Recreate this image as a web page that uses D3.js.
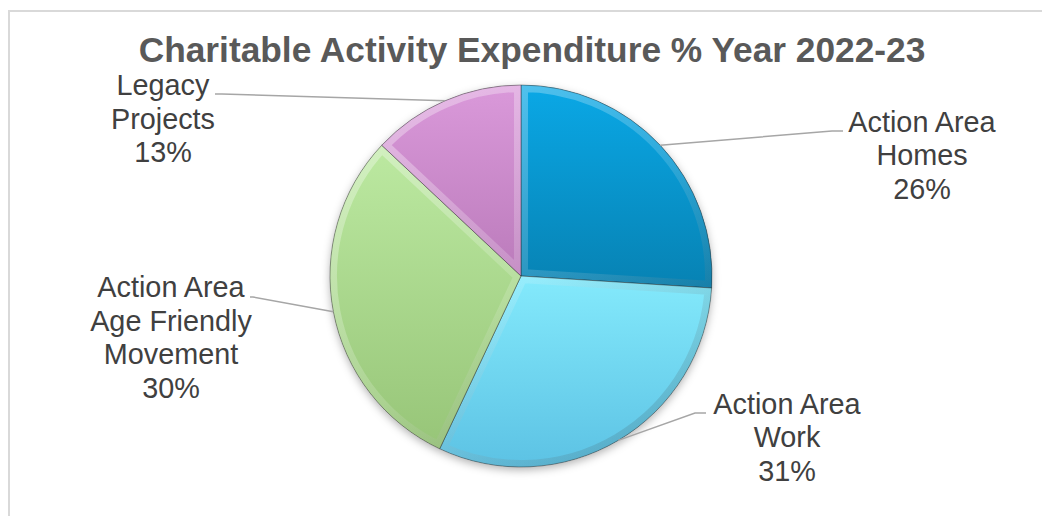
<!DOCTYPE html>
<html>
<head>
<meta charset="utf-8">
<script src="https://cdn.jsdelivr.net/npm/d3@7"></script>
<style>
  html, body { margin: 0; padding: 0; background: #ffffff; }
  svg { display: block; }
</style>
</head>
<body>
<svg id="chart" width="1042" height="516"></svg>
<script>
// ---- Data ----
const title = "Charitable Activity Expenditure % Year 2022-23";
const categories = ["Action Area Homes", "Action Area Work", "Action Area Age Friendly Movement", "Legacy Projects"];
const labelLines = [["Action Area", "Homes"], ["Action Area", "Work"], ["Action Area", "Age Friendly", "Movement"], ["Legacy", "Projects"]];
const values = [26, 31, 30, 13];
const percentLabels = ["26%", "31%", "30%", "13%"];

// ---- Styles / layout (separate from data) ----
const colorsTop = ["#0aa8e6", "#84eafc", "#bce9a1", "#da99da"];
const colorsBottom = ["#0782b3", "#5cc2e4", "#97c578", "#bb7bbb"];
const cx = 521, cy = 276, radius = 191;
// label layout: text centre x, first baseline y, elbow point, end point of leader
const labelLayout = [
  { x: 922, y: 131.5, elbow: [832, 131], end: [843, 131] },
  { x: 787, y: 413.5, elbow: [695, 413], end: [706, 413] },
  { x: 171, y: 297, elbow: [253, 297], end: [250, 297] },
  { x: 163, y: 95, elbow: [222, 94], end: [215, 94] }
];
const lineHeight = 33.5;

const svg = d3.select("#chart");
const defs = svg.append("defs");

// chart frame
svg.append("rect")
  .attr("x", 9).attr("y", 11)
  .attr("width", 1060).attr("height", 520)
  .attr("fill", "#ffffff")
  .attr("stroke", "#d9d9d9").attr("stroke-width", 2);

// title
svg.append("text")
  .attr("x", 532).attr("y", 62)
  .attr("text-anchor", "middle")
  .attr("font-family", "'Liberation Sans', Arial, sans-serif")
  .attr("font-weight", "bold")
  .attr("font-size", 35.3)
  .attr("fill", "#595959")
  .text(title);

// gradients
values.forEach((v, i) => {
  const g = defs.append("linearGradient")
    .attr("id", "grad" + i)
    .attr("x1", 0).attr("y1", 0).attr("x2", 0).attr("y2", 1);
  g.append("stop").attr("offset", "0%").attr("stop-color", colorsTop[i]);
  g.append("stop").attr("offset", "100%").attr("stop-color", colorsBottom[i]);
});

// bevel band gradient (light top-left, dark bottom-right)
const bevelGrad = defs.append("linearGradient")
  .attr("id", "bevelGrad")
  .attr("gradientUnits", "userSpaceOnUse")
  .attr("x1", -radius).attr("y1", -radius).attr("x2", radius * 0.7).attr("y2", radius);
bevelGrad.append("stop").attr("offset", "0%").attr("stop-color", "#ffffff").attr("stop-opacity", 0.4);
bevelGrad.append("stop").attr("offset", "55%").attr("stop-color", "#ffffff").attr("stop-opacity", 0.15);
bevelGrad.append("stop").attr("offset", "100%").attr("stop-color", "#000000").attr("stop-opacity", 0.15);

// drop shadow
const shadow = defs.append("filter").attr("id", "shadow")
  .attr("x", "-20%").attr("y", "-20%").attr("width", "140%").attr("height", "140%");
shadow.append("feDropShadow").attr("dx", 0).attr("dy", 3).attr("stdDeviation", 4)
  .attr("flood-color", "#000").attr("flood-opacity", 0.3);

const pie = d3.pie().sort(null).value(d => d);
const arcs = pie(values);
const arc = d3.arc().innerRadius(0).outerRadius(radius);

const pieG = svg.append("g")
  .attr("transform", `translate(${cx},${cy})`);

// shadow base
pieG.append("g").attr("filter", "url(#shadow)")
  .selectAll("path").data(arcs).join("path")
  .attr("d", arc).attr("fill", "#888");

// clip paths for bevel bands (in the pie group's user space)
arcs.forEach((d, i) => {
  defs.append("clipPath").attr("id", "clip" + i)
    .append("path").attr("d", arc(d));
});

const sliceG = pieG.selectAll("g.slice")
  .data(arcs)
  .join("g")
  .attr("class", "slice");

sliceG.append("path")
  .attr("d", arc)
  .attr("fill", (d, i) => `url(#grad${i})`);

// bevel band, clipped inside slice
sliceG.append("path")
  .attr("d", arc)
  .attr("fill", "none")
  .attr("stroke", "url(#bevelGrad)")
  .attr("stroke-width", 14)
  .attr("stroke-linejoin", "miter")
  .attr("clip-path", (d, i) => `url(#clip${i})`);

// thin outline
sliceG.append("path")
  .attr("d", arc)
  .attr("fill", "none")
  .attr("stroke", "rgba(30,30,30,0.5)")
  .attr("stroke-width", 0.8);

// leader lines
const leader = d3.line();
arcs.forEach((d, i) => {
  const a = (d.startAngle + d.endAngle) / 2;
  const p0 = [cx + radius * Math.sin(a), cy - radius * Math.cos(a)];
  const L = labelLayout[i];
  svg.append("path")
    .attr("d", leader([p0, L.elbow, L.end]))
    .attr("fill", "none")
    .attr("stroke", "#a6a6a6")
    .attr("stroke-width", 1.5);
});

// labels
arcs.forEach((d, i) => {
  const L = labelLayout[i];
  const t = svg.append("text")
    .attr("text-anchor", "middle")
    .attr("font-family", "'Liberation Sans', Arial, sans-serif")
    .attr("font-size", 28.8)
    .attr("fill", "#404040");
  const lines = labelLines[i].concat([percentLabels[i]]);
  lines.forEach((ln, k) => {
    t.append("tspan").attr("x", L.x).attr("y", L.y + k * lineHeight).text(ln);
  });
});
</script>
</body>
</html>
